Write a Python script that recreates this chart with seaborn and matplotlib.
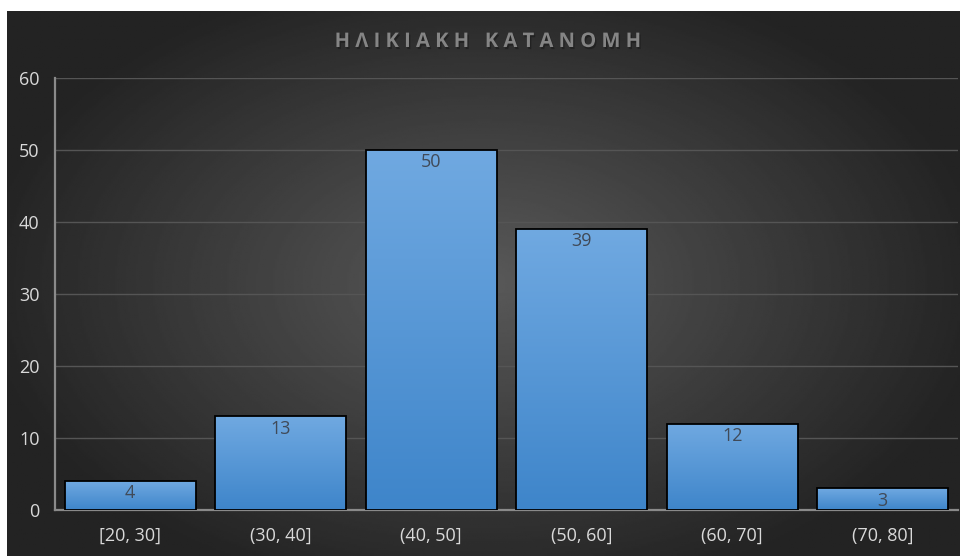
import numpy as np
import pandas as pd
import seaborn as sns
import matplotlib.pyplot as plt
import matplotlib.patheffects as pe
from matplotlib.colors import LinearSegmentedColormap

age_groups = ['[20, 30]', '(30, 40]', '(40, 50]', '(50, 60]', '(60, 70]', '(70, 80]']
counts = [4, 13, 50, 39, 12, 3]

df = pd.DataFrame({'Group': age_groups, 'Count': counts})

sns.set_style('white')
plt.rcParams['font.family'] = ['Open Sans', 'DejaVu Sans']

fig = plt.figure(figsize=(9.64, 5.56), dpi=100)
fig.patch.set_facecolor('white')

# dark radial background panel
bg = fig.add_axes([7/964, 0, 953/964, 545/556])
yy, xx = np.mgrid[-1:1:300j, -1:1:500j]
r = np.sqrt(xx**2 + (yy * 0.9)**2)
shade = np.clip(0.35 - 0.2 * r, 0.14, 0.35)
bg.imshow(shade, cmap='gray', vmin=0, vmax=1, aspect='auto', extent=[0, 1, 0, 1])
bg.set_axis_off()

ax = fig.add_axes([55/964, 1 - 510/556, 903/964, (510 - 78)/556])
ax.patch.set_alpha(0)

sns.barplot(data=df, x='Group', y='Count', color='#5b9bd5', width=0.87,
            edgecolor='black', linewidth=1.3, ax=ax, zorder=3)

# vertical gradient on each bar
grad = np.linspace(0, 1, 256).reshape(-1, 1)
bar_cmap = LinearSegmentedColormap.from_list('bar', ['#3e85ca', '#70a9e1'])
for p in ax.patches:
    x0, y0 = p.get_x(), p.get_y()
    w, h = p.get_width(), p.get_height()
    im = ax.imshow(grad, cmap=bar_cmap, aspect='auto', origin='lower',
                   extent=[x0, x0 + w, y0, y0 + h], zorder=3.5)
    im.set_clip_path(p)
    p.set_facecolor('none')
    p.set_zorder(4)

for i, v in enumerate(counts):
    ax.text(i, v - 0.45, str(v), ha='center', va='top', fontsize=13, color='#404a58', zorder=5)

ax.set_xlim(-0.5, 5.5)
ax.set_ylim(0, 60)
ax.set_yticks(range(0, 61, 10))
ax.yaxis.grid(True, color='#555555', linewidth=1)
ax.set_axisbelow(True)
ax.set_xlabel('')
ax.set_ylabel('')
ax.tick_params(axis='both', colors='#d9d9d9', labelsize=13, length=0)
ax.tick_params(axis='x', pad=12)
ax.tick_params(axis='y', pad=11)
for s in ['top', 'right']:
    ax.spines[s].set_visible(False)
for s in ['left', 'bottom']:
    ax.spines[s].set_color('#8a8a8a')
    ax.spines[s].set_linewidth(1.6)

fig.text(0.506, 1 - 42/556, 'Η Λ Ι Κ Ι Α Κ Η   Κ Α Τ Α Ν Ο Μ Η', ha='center', va='center',
         fontsize=14.5, fontweight='bold', color='#858585',
         path_effects=[pe.withSimplePatchShadow(offset=(1, -1.5), shadow_rgbFace='#1a1a1a', alpha=0.6)])

plt.savefig('out.png', dpi=100)
